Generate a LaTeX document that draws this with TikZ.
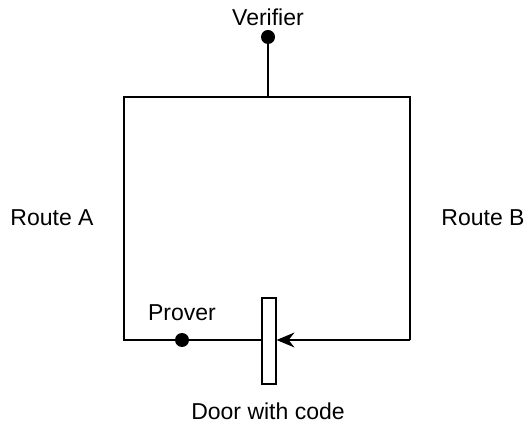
\documentclass[tikz,border=0pt]{standalone}
\usepackage{fontspec}
\setmainfont{Liberation Sans}
\usetikzlibrary{arrows.meta}
\begin{document}
\begin{tikzpicture}[x=1pt,y=1pt,
  wire/.style={line width=1.1pt, draw=black},
  dotnode/.style={circle, fill=black, inner sep=0pt, minimum size=14pt},
  lbl/.style={font=\fontsize{23}{27}\selectfont, inner sep=0pt},
  doorbox/.style={draw, line width=1.1pt, fill=white, minimum width=14pt, minimum height=86pt, inner sep=0pt}]
\useasboundingbox (0,0) rectangle (527,428);
% corners
\coordinate (tl) at (124,331);
\coordinate (tr) at (410,331);
\coordinate (bl) at (124,88);
\coordinate (br) at (410,88);
\coordinate (topmid) at (268,331);
% door
\node[doorbox] (door) at (269,87) {};
% verifier
\node[dotnode] (ver) at (268,391) {};
\node[lbl] (vertxt) at (268,411) {Verifier};
% prover
\node[dotnode] (prov) at (182,88) {};
\node[lbl] (provtxt) at (182,115) {Prover};
% labels
\node[lbl] (ra) at (52,210) {Route A};
\node[lbl] (rb) at (483,210) {Route B};
\node[lbl] (dc) at (268,17) {Door with code};
% lines
\draw[wire] (ver) -- (topmid);
\draw[wire] (door.west |- bl) -- (bl) -- (tl) -- (tr) -- (br);
\draw[wire, -{Stealth[length=18pt, width=15pt, inset=6pt]}] (br) -- (door.east |- br);
\end{tikzpicture}
\end{document}
